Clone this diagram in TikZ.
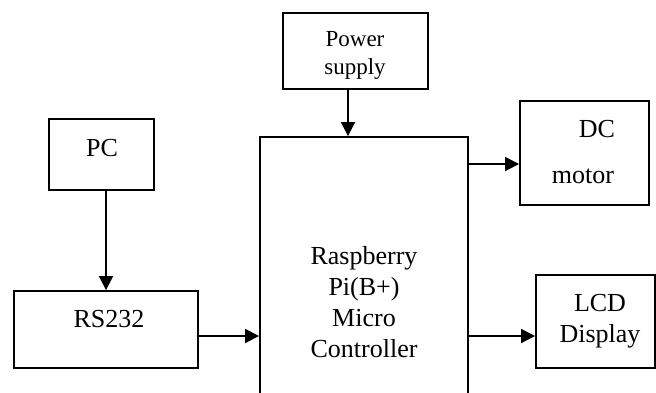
\documentclass[tikz,border=0pt]{standalone}
\usepackage{fontspec}
\setmainfont{Liberation Serif}
\usetikzlibrary{arrows.meta}
\tikzset{
  box/.style={draw, line width=1.9pt, rectangle, inner sep=0pt, minimum width=#1},
  lbl/.style={inner sep=0pt, font=\fontsize{26}{31}\selectfont},
  lblsmall/.style={inner sep=0pt, font=\fontsize{23}{28}\selectfont, align=center},
  conn/.style={line width=1.9pt, -{Triangle[length=14pt,width=14pt]}}
}
\begin{document}
\begin{tikzpicture}[x=1pt,y=-1pt]
\useasboundingbox (0,0) rectangle (656,392);
\clip (0,0) rectangle (656,392);
% boxes
\node[box=145pt, minimum height=76pt] (power) at (355.5,51) {};
\node[box=105pt, minimum height=71pt] (pc) at (101.5,154.5) {};
\node[box=184pt, minimum height=77pt] (rs) at (106,329.5) {};
\node[box=208pt, minimum height=263pt] (main) at (364,268.5) {};
\node[box=129pt, minimum height=104pt] (dc) at (584.5,153) {};
\node[box=119pt, minimum height=93pt] (lcd) at (595.5,321.5) {};
% texts
\node[lblsmall] (powert) at (355,55) {Power\\supply};
\node[lbl, anchor=base] (pct) at (102,156) {PC};
\node[lbl, anchor=base] (rst) at (109,327) {RS232};
\node[lbl, align=center] (maint) at (364,302) {Raspberry\\Pi(B+)\\Micro\\Controller};
\node[lbl, anchor=base] (dct1) at (597,137) {DC};
\node[lbl, anchor=base] (dct2) at (583,183) {motor};
\node[lbl, align=center] (lcdt) at (600,320.7) {LCD\\Display};
% connectors
\draw[conn] (rs.north |- pc.south) -- (rs.north);
\draw[conn] ([yshift=-6.5pt]rs.east) -- ([yshift=-6.5pt]rs.east -| main.west);
\draw[conn] ([xshift=-7.5pt]power.south) -- ([xshift=-7.5pt]power.south |- main.north);
\draw[conn] ([yshift=-11pt]dc.west -| main.east) -- ([yshift=-11pt]dc.west);
\draw[conn] ([yshift=-14.5pt]lcd.west -| main.east) -- ([yshift=-14.5pt]lcd.west);
\end{tikzpicture}
\end{document}
